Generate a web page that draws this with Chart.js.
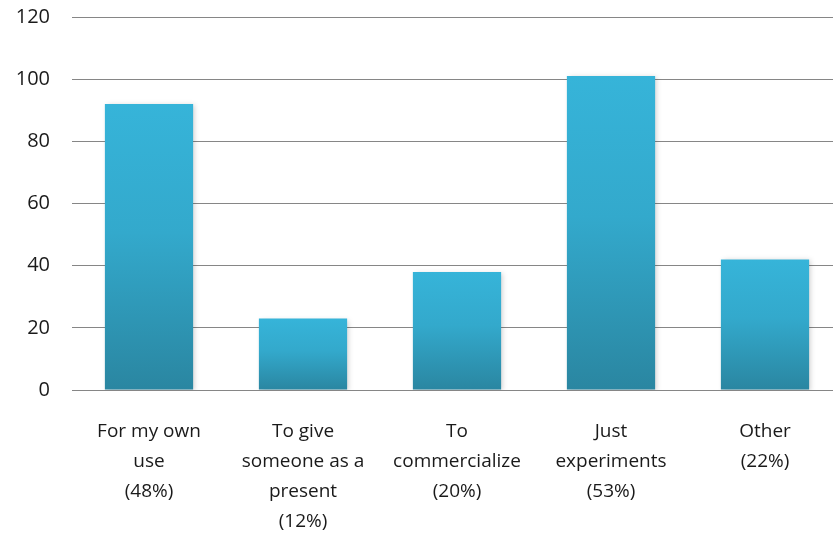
<!DOCTYPE html>
<html>
<head>
<meta charset="utf-8">
<script src="https://cdn.jsdelivr.net/npm/chart.js@4.4.1/dist/chart.umd.min.js"></script>
<style>
    html, body { margin: 0; padding: 0; background: #ffffff; overflow: hidden; }
    #wrap { position: relative; width: 842px; height: 535px; }
</style>
</head>
<body>
<div id="wrap"><canvas id="myChart"></canvas></div>
<script>
// categories and values
const categories = [
    ["For my own", "use", "(48%)"],
    ["To give", "someone as a", "present", "(12%)"],
    ["To", "commercialize", "(20%)"],
    ["Just", "experiments", "(53%)"],
    ["Other", "(22%)"]
];
const counts = [92, 23, 38, 101, 42];
const yTicks = [0, 20, 40, 60, 80, 100, 120];

// gradient per bar, light at the top and darker at the bottom
function barGradient(context) {
    const chart = context.chart;
    const yScale = chart.scales.y;
    if (!chart.chartArea || !yScale) return '#33aed3';
    const value = context.raw;
    const top = yScale.getPixelForValue(value);
    const bottom = yScale.getPixelForValue(0);
    const g = chart.ctx.createLinearGradient(0, top, 0, bottom);
    g.addColorStop(0, '#36b4d9');
    g.addColorStop(0.45, '#33a9cc');
    g.addColorStop(1, '#2a86a1');
    return g;
}

// soft shadow behind the bars
const barShadow = {
    id: 'barShadow',
    beforeDatasetsDraw(chart) {
        chart.ctx.save();
        chart.ctx.shadowColor = 'rgba(0,0,0,0.18)';
        chart.ctx.shadowBlur = 5;
        chart.ctx.shadowOffsetX = 2;
        chart.ctx.shadowOffsetY = 1;
    },
    afterDatasetsDraw(chart) {
        chart.ctx.restore();
    }
};

const ctx = document.getElementById('myChart').getContext('2d');

new Chart(ctx, {
    type: 'bar',
    data: {
        labels: categories,
        datasets: [{
            label: 'Count',
            data: counts,
            backgroundColor: barGradient,
            borderWidth: 0,
            categoryPercentage: 1,
            barPercentage: 0.573
        }]
    },
    options: {
        responsive: true,
        maintainAspectRatio: false,
        animation: false,
        layout: {
            padding: { top: 17, left: 0, right: 0, bottom: 0 }
        },
        plugins: {
            legend: { display: false },
            tooltip: { enabled: false }
        },
        scales: {
            y: {
                min: 0,
                max: 120,
                afterBuildTicks(axis) {
                    axis.ticks = yTicks.map(v => ({ value: v }));
                },
                afterFit(axis) {
                    axis.width = 72;
                    axis.paddingTop = 0;
                    axis.paddingBottom = 0;
                },
                border: { display: false },
                grid: {
                    color: '#868686',
                    lineWidth: 1,
                    drawTicks: false
                },
                ticks: {
                    color: '#1a1a1a',
                    padding: 22,
                    font: { family: 'Open Sans', size: 20 }
                }
            },
            x: {
                afterFit(axis) {
                    axis.height = 145;
                    axis.paddingLeft = 0;
                    axis.paddingRight = 0;
                },
                border: { display: false },
                grid: { display: false, drawTicks: false },
                ticks: {
                    color: '#1a1a1a',
                    padding: 27,
                    maxRotation: 0,
                    autoSkip: false,
                    font: { family: 'Open Sans', size: 19, lineHeight: 1.58 }
                }
            }
        }
    },
    plugins: [barShadow]
});
</script>
</body>
</html>
